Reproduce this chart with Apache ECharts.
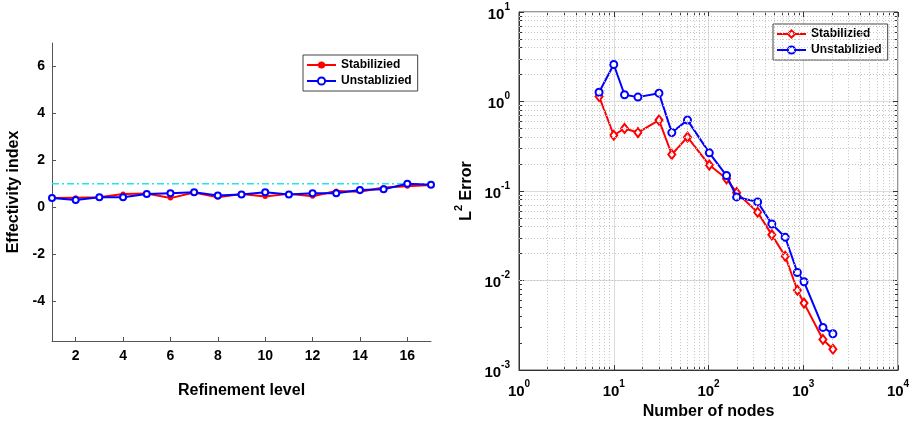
<!DOCTYPE html>
<html>
<head>
<meta charset="utf-8">
<script src="https://cdn.jsdelivr.net/npm/echarts@6/dist/echarts.min.js"></script>
<style>
html,body{margin:0;padding:0;background:#fff;}
#c{width:914px;height:425px;}
</style>
</head>
<body>
<div id="c"></div>
<script>
// ---- Data ----
const refinementLevels = [1,2,3,4,5,6,7,8,9,10,11,12,13,14,15,16,17];
const stabilizedIndex   = [0.39,0.41,0.43,0.56,0.59,0.39,0.63,0.43,0.56,0.46,0.57,0.47,0.69,0.66,0.84,0.89,0.95];
const unstabilizedIndex = [0.39,0.31,0.43,0.43,0.56,0.60,0.64,0.50,0.54,0.64,0.54,0.60,0.60,0.74,0.77,1.00,0.96];
const referenceIndex = 1;
const leftYTicks = [-4,-2,0,2,4,6];
const leftXTicks = [2,4,6,8,10,12,14,16];

const numberOfNodes = [7,10,13,18,30,41,60,102,155,198,330,466,645,867,1019,1614,2056];
const stabilizedError   = [1.14,0.42,0.50,0.45,0.62,0.256,0.40,0.195,0.137,0.096,0.058,0.0324,0.0187,0.0078,0.0056,0.0022,0.00171];
const unstabilizedError = [1.27,2.59,1.19,1.12,1.24,0.45,0.62,0.267,0.149,0.086,0.0756,0.0428,0.0305,0.0123,0.0097,0.0030,0.00255];

const seriesNames = ['Stabilizied','Unstablizied'];

// ---- helpers ----
const pair = (xs, ys) => xs.map((x,i)=>[x, ys[i]]);
function minorValues(lo, hi){
  const out=[];
  for(let k=lo;k<hi;k++){ for(let m=2;m<=9;m++){ out.push(m*Math.pow(10,k)); } }
  return out;
}
function majorValues(lo, hi){
  const out=[];
  for(let k=lo;k<=hi;k++){ out.push(Math.pow(10,k)); }
  return out;
}
const xMinor = minorValues(0,4), yMinor = minorValues(-3,1);
const xMajor = majorValues(0,4), yMajor = majorValues(-3,1);

const FONT = '"Liberation Sans", Arial, Helvetica, sans-serif';
const expLabel = v => '{b|10}{s|' + Math.round(Math.log10(v)) + '}';
const expRich = {
  b:{fontSize:15,fontWeight:700,color:'#000',fontFamily:FONT,verticalAlign:'bottom',lineHeight:20},
  s:{fontSize:10,fontWeight:700,color:'#000',fontFamily:FONT,verticalAlign:'top',lineHeight:20}
};
const axisColor = '#555';

function tickAxis(kind, pos, values, len){
  return {
    type:'log', logBase:10, gridIndex:1,
    min: kind==='x' ? 1 : 0.001, max: kind==='x' ? 10000 : 10,
    position:pos, silent:true,
    axisLine:{show:false},
    axisTick:{show:true,inside:true,length:len,lineStyle:{color:'#333'},customValues:values},
    axisLabel:{show:false},
    splitLine:{show:false}
  };
}

const chart = echarts.init(document.getElementById('c'), null, {renderer:'canvas'});
const option = {
  backgroundColor:'#fff',
  animation:false,
  textStyle:{fontFamily:FONT},
  grid:[
    {left:52, top:43, width:379, height:298, show:false},
    {left:519, top:12, width:379, height:360, show:true, borderColor:'#333', borderWidth:1, backgroundColor:'transparent'}
  ],
  legend:[
    {
      data:seriesNames, orient:'vertical', left:303, top:55,
      itemWidth:29, itemHeight:9, itemGap:4, padding:[4,6,4,3],
      backgroundColor:'#fff', borderColor:'#444', borderWidth:1,
      textStyle:{fontSize:12,fontWeight:'bold',color:'#000',fontFamily:FONT},
      formatter:n=>n.trim(), selectedMode:false
    },
    {
      data:seriesNames.map(n=>n+' '), orient:'vertical', left:773, top:24,
      itemWidth:29, itemHeight:9, itemGap:4, padding:[4,6,4,3],
      backgroundColor:'#fff', borderColor:'#444', borderWidth:1,
      textStyle:{fontSize:12,fontWeight:'bold',color:'#000',fontFamily:FONT},
      formatter:n=>n.trim(), selectedMode:false
    }
  ],
  xAxis:[
    {
      type:'value', gridIndex:0, min:1, max:17,
      name:'Refinement level', nameLocation:'middle', nameGap:42,
      nameTextStyle:{fontSize:16,fontWeight:'bold',color:'#000',fontFamily:FONT},
      axisLine:{show:true,onZero:false,lineStyle:{color:axisColor,width:1}},
      axisTick:{show:true,inside:true,length:4,lineStyle:{color:axisColor},customValues:leftXTicks},
      axisLabel:{fontSize:14,fontWeight:'bold',color:'#000',margin:8,customValues:leftXTicks},
      splitLine:{show:false}
    },
    {
      type:'log', logBase:10, gridIndex:1, min:1, max:10000, position:'bottom',
      name:'Number of nodes', nameLocation:'middle', nameGap:33,
      nameTextStyle:{fontSize:16,fontWeight:'bold',color:'#000',fontFamily:FONT},
      axisLine:{show:true,onZero:false,lineStyle:{color:'#333',width:1}},
      axisTick:{show:true,inside:true,length:5,lineStyle:{color:'#333'}},
      axisLabel:{fontSize:15,fontWeight:700,color:'#000',fontFamily:FONT,formatter:expLabel,rich:expRich,margin:9},
      splitLine:{show:true,lineStyle:{color:'#dcdcdc',width:1}}
    },
    tickAxis('x','bottom',xMinor,3),
    tickAxis('x','top',xMinor,3),
    tickAxis('x','top',xMajor,5)
  ],
  yAxis:[
    {
      type:'value', gridIndex:0, min:-5.7, max:7,
      name:'Effectivity index', nameLocation:'middle', nameGap:30,
      nameTextStyle:{fontSize:16,fontWeight:'bold',color:'#000',fontFamily:FONT},
      axisLine:{show:true,onZero:false,lineStyle:{color:axisColor,width:1}},
      axisTick:{show:true,inside:true,length:4,lineStyle:{color:axisColor},customValues:leftYTicks},
      axisLabel:{fontSize:14,fontWeight:'bold',color:'#000',margin:7,customValues:leftYTicks},
      splitLine:{show:false}
    },
    {
      type:'log', logBase:10, gridIndex:1, min:0.001, max:10, position:'left',
      name:'{b|L}{s|2}{b| Error}', nameLocation:'middle', nameGap:44,
      nameTextStyle:{fontSize:16,fontWeight:'bold',color:'#000',fontFamily:FONT,
        rich:{
          b:{fontSize:16,fontWeight:700,color:'#000',fontFamily:FONT,verticalAlign:'bottom',lineHeight:22},
          s:{fontSize:11,fontWeight:700,color:'#000',fontFamily:FONT,verticalAlign:'top',lineHeight:22}
        }},
      axisLine:{show:true,onZero:false,lineStyle:{color:'#333',width:1}},
      axisTick:{show:true,inside:true,length:5,lineStyle:{color:'#333'}},
      axisLabel:{fontSize:15,fontWeight:700,color:'#000',fontFamily:FONT,formatter:expLabel,rich:expRich,margin:9},
      splitLine:{show:true,lineStyle:{color:'#dcdcdc',width:1}}
    },
    tickAxis('y','left',yMinor,3),
    tickAxis('y','right',yMinor,3),
    tickAxis('y','right',yMajor,5)
  ],
  series:[
    {
      type:'line', xAxisIndex:1, yAxisIndex:1, data:[], silent:true, z:1,
      markLine:{
        silent:true, symbol:['none','none'], label:{show:false}, animation:false,
        lineStyle:{color:'#c4c4c4',width:1,type:[1,2]},
        emphasis:{disabled:true},
        data: xMinor.map(v=>({xAxis:v})).concat(yMinor.map(v=>({yAxis:v})))
      }
    },
    {
      type:'line', xAxisIndex:0, yAxisIndex:0, name:'ref', silent:true, z:2,
      data:[[refinementLevels[0],referenceIndex],[refinementLevels[refinementLevels.length-1],referenceIndex]],
      symbol:'none', lineStyle:{color:'#1ee6f0',width:1.5,type:[7,3,2,3]}
    },
    {
      type:'line', xAxisIndex:0, yAxisIndex:0, name:seriesNames[0], z:3,
      data:pair(refinementLevels,stabilizedIndex),
      symbol:'circle', symbolSize:5, color:'#ff0000',
      lineStyle:{color:'#ff0000',width:2}, itemStyle:{color:'#ff0000'}
    },
    {
      type:'line', xAxisIndex:0, yAxisIndex:0, name:seriesNames[1], z:4,
      data:pair(refinementLevels,unstabilizedIndex),
      symbol:'emptyCircle', symbolSize:6, color:'#0000ff',
      lineStyle:{color:'#0000ff',width:2}, itemStyle:{color:'#0000ff',borderWidth:2}
    },
    {
      type:'line', xAxisIndex:1, yAxisIndex:1, name:seriesNames[0]+' ', z:3,
      data:pair(numberOfNodes,stabilizedError),
      symbol:'emptyDiamond', symbolSize:[7,9], color:'#ff0000',
      lineStyle:{color:'#ff0000',width:2}, itemStyle:{color:'#ff0000',borderWidth:1.5}
    },
    {
      type:'line', xAxisIndex:1, yAxisIndex:1, name:seriesNames[1]+' ', z:4,
      data:pair(numberOfNodes,unstabilizedError),
      symbol:'emptyCircle', symbolSize:7, color:'#0000ff',
      lineStyle:{color:'#0000ff',width:2}, itemStyle:{color:'#0000ff',borderWidth:1.5}
    }
  ]
};
chart.setOption(option);
</script>
</body>
</html>
